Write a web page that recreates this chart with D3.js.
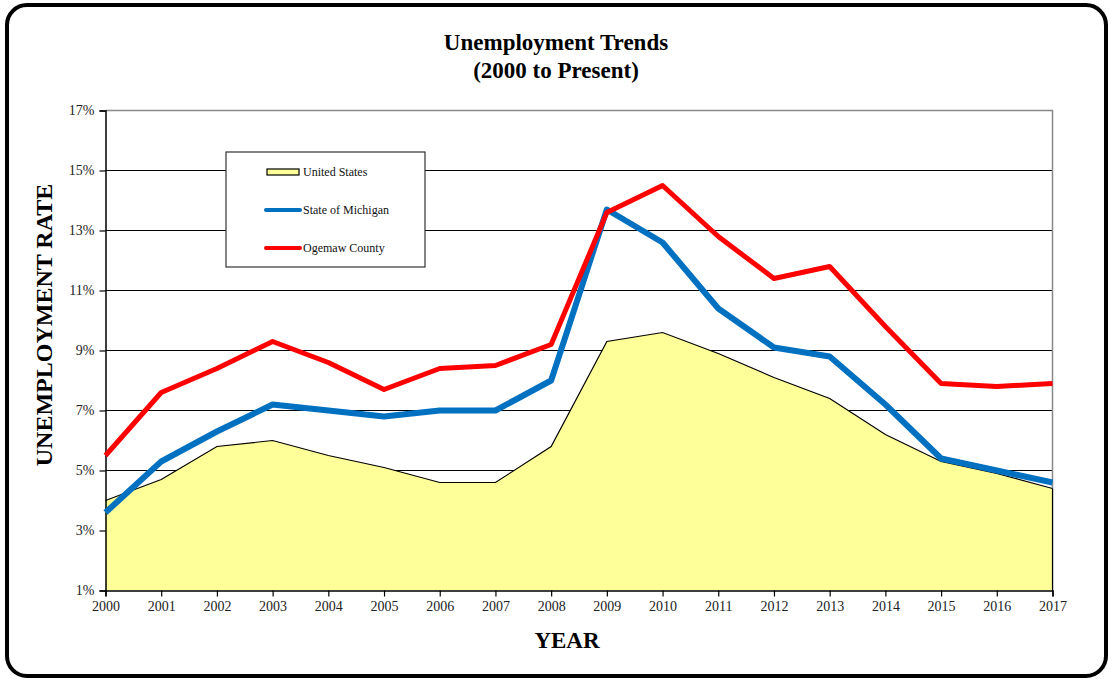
<!DOCTYPE html>
<html>
<head>
<meta charset="utf-8">
<script src="https://cdn.jsdelivr.net/npm/d3@7"></script>
<style>
  body { margin: 0; background: #fff; }
  svg { display: block; font-family: "Liberation Serif", "Times New Roman", serif; }
</style>
</head>
<body>
<svg id="vis"></svg>
<script>
const WIDTH = 1109;
const HEIGHT = 679;

// data
const years = [2000, 2001, 2002, 2003, 2004, 2005, 2006, 2007, 2008, 2009, 2010, 2011, 2012, 2013, 2014, 2015, 2016, 2017];
const unitedStates = [4.0, 4.7, 5.8, 6.0, 5.5, 5.1, 4.6, 4.6, 5.8, 9.3, 9.6, 8.9, 8.1, 7.4, 6.2, 5.3, 4.9, 4.4];
const michigan = [3.6, 5.3, 6.3, 7.2, 7.0, 6.8, 7.0, 7.0, 8.0, 13.7, 12.6, 10.4, 9.1, 8.8, 7.2, 5.4, 5.0, 4.6];
const ogemaw = [5.5, 7.6, 8.4, 9.3, 8.6, 7.7, 8.4, 8.5, 9.2, 13.6, 14.5, 12.8, 11.4, 11.8, 9.8, 7.9, 7.8, 7.9];
const yTicks = [1, 3, 5, 7, 9, 11, 13, 15, 17];
const legendLabels = ["United States", "State of Michigan", "Ogemaw County"];

const svg = d3.select("#vis")
    .attr("width", WIDTH)
    .attr("height", HEIGHT);

// outer rounded frame
svg.append("rect")
    .attr("x", 7).attr("y", 5)
    .attr("width", 1099).attr("height", 671)
    .attr("rx", 20).attr("ry", 20)
    .attr("fill", "#fff")
    .attr("stroke", "#000")
    .attr("stroke-width", 4);

const plotLeft = 105.5, plotRight = 1052.5, plotTop = 110.5, plotBottom = 590.5;

const x = d3.scaleLinear().domain([2000, 2017]).range([plotLeft, plotRight]);
const y = d3.scaleLinear().domain([1, 17]).range([plotBottom, plotTop]);

// gridlines
svg.append("g")
    .selectAll("line")
    .data(yTicks.filter(t => t > 1 && t < 17))
    .join("line")
    .attr("x1", plotLeft).attr("x2", plotRight)
    .attr("y1", d => y(d)).attr("y2", d => y(d))
    .attr("stroke", "#000")
    .attr("stroke-width", 1);

// top and right frame of plot area
svg.append("path")
    .attr("d", `M${plotLeft},${y(17)}H${plotRight}V${plotBottom}`)
    .attr("fill", "none")
    .attr("stroke", "#888")
    .attr("stroke-width", 1.5);

const rows = years.map((yr, i) => ({ year: yr, us: unitedStates[i], mi: michigan[i], og: ogemaw[i] }));

const area = d3.area()
    .x(d => x(d.year))
    .y0(y(1))
    .y1(d => y(d.us));

svg.append("path")
    .datum(rows)
    .attr("d", area)
    .attr("fill", "#ffff99");

svg.append("path")
    .datum(rows)
    .attr("d", d3.line().x(d => x(d.year)).y(d => y(d.us)))
    .attr("fill", "none")
    .attr("stroke", "#000")
    .attr("stroke-width", 1.2);

svg.append("line")
    .attr("x1", plotRight).attr("x2", plotRight)
    .attr("y1", y(unitedStates[unitedStates.length - 1])).attr("y2", plotBottom)
    .attr("stroke", "#000").attr("stroke-width", 1.2);

// axes
const axisY = d3.axisLeft(y).tickValues(yTicks).tickFormat(d => d + "%").tickSize(6).tickPadding(5);
const gy = svg.append("g")
    .attr("transform", `translate(${plotLeft},0)`)
    .call(axisY);

const axisX = d3.axisBottom(x).tickValues(years).tickFormat(d3.format("d")).tickSize(6).tickPadding(5);
const gx = svg.append("g")
    .attr("transform", `translate(0,${plotBottom})`)
    .call(axisX);

[gx, gy].forEach(g => {
    g.select(".domain").attr("stroke", "#000").attr("stroke-width", 1.5);
    g.selectAll(".tick line").attr("stroke", "#000").attr("stroke-width", 1.2);
    g.selectAll("text")
        .attr("font-family", "Liberation Serif, Times New Roman, serif")
        .attr("font-size", 14)
        .attr("fill", "#222");
});

// series lines
const lineMi = d3.line().x(d => x(d.year)).y(d => y(d.mi));
const lineOg = d3.line().x(d => x(d.year)).y(d => y(d.og));

svg.append("path")
    .datum(rows)
    .attr("d", lineMi)
    .attr("fill", "none")
    .attr("stroke", "#0070c0")
    .attr("stroke-width", 6)
    .attr("stroke-linejoin", "round");

svg.append("path")
    .datum(rows)
    .attr("d", lineOg)
    .attr("fill", "none")
    .attr("stroke", "#ff0000")
    .attr("stroke-width", 5)
    .attr("stroke-linejoin", "round");

// legend
const legend = svg.append("g").attr("transform", "translate(226,152)");
legend.append("rect")
    .attr("width", 199).attr("height", 115)
    .attr("fill", "#fff")
    .attr("stroke", "#333")
    .attr("stroke-width", 1.2);

const legendRows = [20, 58, 96];
legend.append("rect")
    .attr("x", 41).attr("y", legendRows[0] - 3)
    .attr("width", 32).attr("height", 6)
    .attr("fill", "#ffff99")
    .attr("stroke", "#000")
    .attr("stroke-width", 1.2);
legend.append("line")
    .attr("x1", 40).attr("x2", 74)
    .attr("y1", legendRows[1]).attr("y2", legendRows[1])
    .attr("stroke", "#0070c0").attr("stroke-width", 4).attr("stroke-linecap", "round");
legend.append("line")
    .attr("x1", 40).attr("x2", 74)
    .attr("y1", legendRows[2]).attr("y2", legendRows[2])
    .attr("stroke", "#ff0000").attr("stroke-width", 4).attr("stroke-linecap", "round");

legend.selectAll("text.lab")
    .data(legendLabels)
    .join("text")
    .attr("class", "lab")
    .attr("x", 77)
    .attr("y", (d, i) => legendRows[i] + 4)
    .attr("font-size", 12)
    .attr("fill", "#111")
    .text(d => d);

// titles
svg.append("text")
    .attr("x", 556).attr("y", 50)
    .attr("text-anchor", "middle")
    .attr("font-size", 23).attr("font-weight", "bold")
    .text("Unemployment Trends");
svg.append("text")
    .attr("x", 556).attr("y", 78)
    .attr("text-anchor", "middle")
    .attr("font-size", 23).attr("font-weight", "bold")
    .text("(2000 to Present)");

svg.append("text")
    .attr("x", 567).attr("y", 648)
    .attr("text-anchor", "middle")
    .attr("font-size", 23).attr("font-weight", "bold")
    .text("YEAR");

svg.append("text")
    .attr("transform", "translate(52,325) rotate(-90)")
    .attr("text-anchor", "middle")
    .attr("font-size", 24).attr("font-weight", "bold")
    .text("UNEMPLOYMENT RATE");
</script>
</body>
</html>
